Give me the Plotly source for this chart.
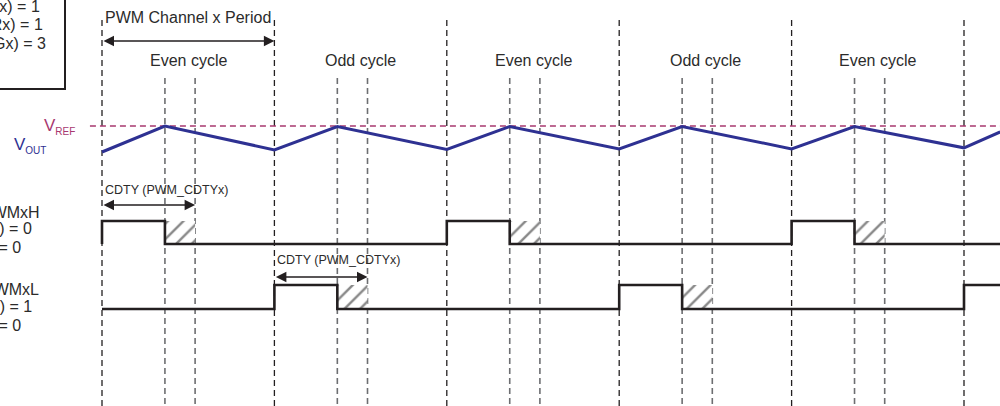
import plotly.graph_objects as go

# ---------------- data ----------------
# time axis in PWM periods (0 = start of first drawn period)
period_marks = [0, 1, 2, 3, 4, 5]
cycle_labels = ["Even cycle", "Odd cycle", "Even cycle", "Odd cycle", "Even cycle"]
cdty_frac = 0.365        # duty (compare) point inside a period
dead_frac = 0.54         # end of the hatched (dead-time) zone inside a period

# VOUT triangle (normalised: 0 = valley, 1 = touches VREF)
vout_t = [0, 0.365, 1, 1.365, 2, 2.365, 3, 3.365, 4, 4.365, 5, 5.21]
vout_v = [0.0, 1.0, 0.08, 0.98, 0.1, 0.98, 0.12, 0.98, 0.12, 0.98, 0.16, 0.77]
vref_v = 0.98

# PWMxH / PWMxL logical states (step after each time)
pwmh_t = [0, 0, 0.365, 2, 2.365, 4, 4.365, 5.21]
pwmh_s = [0, 1, 0, 1, 0, 1, 0, 0]
pwml_t = [0, 1, 1.365, 3, 3.365, 5, 5.21]
pwml_s = [0, 1, 0, 1, 0, 1, 1]
hatch_h = [0, 2, 4]      # periods where PWMxH has a hatched edge
hatch_l = [1, 3]         # periods where PWMxL has a hatched edge

box_lines = ["CALG(PWM_CMRx) = 1", "CPOL(PWM_CMRx) = 1", "DTRIG(PWM_ETRGx) = 3"]
h_lines = ["PWMxH", "POLH(PWM_CMRx) = 0", "DPOLI = 0"]
l_lines = ["PWMxL", "POLL(PWM_CMRx) = 1", "DPOLI = 0"]

# ---------------- layout constants ----------------
W, H = 1000, 406
X0_PX, PERIOD_PX = 102, 172.4
FONT = "Liberation Sans, Arial, sans-serif"
INK = "#231f20"
TXT = "#2b2b2b"
BLUE = "#2e3192"
MAG = "#a8386f"

VOUT_BASE, VOUT_AMP = 152, 26
H_LOW, H_AMP = 244, 23
L_LOW, L_AMP = 309, 24


def yv(v):
    return VOUT_BASE - v * VOUT_AMP


fig = go.Figure()

# hatched dead-time zones
for lst, low, amp in ((hatch_h, H_LOW, H_AMP), (hatch_l, L_LOW, L_AMP)):
    for p in lst:
        a, b = p + cdty_frac, p + dead_frac
        fig.add_trace(go.Scatter(
            x=[a, b, b, a, a], y=[low - amp, low - amp, low, low, low - amp],
            mode="lines", line=dict(width=0), fill="toself",
            fillcolor="rgba(0,0,0,0)",
            fillpattern=dict(shape="/", fgcolor="#111111", bgcolor="white", size=11, solidity=0.22),
            hoverinfo="skip", showlegend=False))

# VREF
fig.add_trace(go.Scatter(x=[-0.07, 5.25], y=[yv(vref_v) - 0.5] * 2, mode="lines",
                         line=dict(color=MAG, width=1.5, dash="6px,4px"),
                         hoverinfo="skip", showlegend=False))
# VOUT
fig.add_trace(go.Scatter(x=vout_t, y=[yv(v) for v in vout_v], mode="lines",
                         line=dict(color=BLUE, width=3), showlegend=False))
# PWMxH / PWMxL
fig.add_trace(go.Scatter(x=pwmh_t, y=[H_LOW - s * H_AMP for s in pwmh_s], mode="lines",
                         line=dict(color=INK, width=2.6, shape="hv"), showlegend=False))
fig.add_trace(go.Scatter(x=pwml_t, y=[L_LOW - s * L_AMP for s in pwml_s], mode="lines",
                         line=dict(color=INK, width=2.6, shape="hv"), showlegend=False))

shapes = []
for p in period_marks:
    shapes.append(dict(type="line", xref="x", yref="y", x0=p, x1=p, y0=20, y1=H,
                       line=dict(color=INK, width=1.3, dash="6px,4px"), layer="below"))
    for f in (cdty_frac, dead_frac):
        shapes.append(dict(type="line", xref="x", yref="y", x0=p + f, x1=p + f, y0=78, y1=H,
                           line=dict(color="#6d6e71", width=1.6, dash="6px,4px"), layer="below"))
# legend-like box at top left
shapes.append(dict(type="rect", xref="paper", yref="y", x0=-0.03, x1=0.065, y0=-5, y1=89,
                   line=dict(color=INK, width=2), fillcolor="rgba(0,0,0,0)"))

ann = []


def txt(x, y, s, size=16, color=TXT, xanchor="center", xref="x"):
    ann.append(dict(x=x, y=y, xref=xref, yref="y", text=s, showarrow=False,
                    xanchor=xanchor, yanchor="middle",
                    font=dict(family=FONT, size=size, color=color)))


def darrow(x0, x1, y):
    ann.append(dict(x=x1, y=y, ax=x0, ay=y, xref="x", yref="y", axref="x", ayref="y",
                    text="", showarrow=True, arrowhead=2, arrowside="end+start",
                    arrowsize=1.5, arrowwidth=1.4, arrowcolor=INK))


txt(0.005, 17, "PWM Channel x Period", xanchor="left")
darrow(0, 1, 41)
for i, lab in enumerate(cycle_labels):
    txt(i + 0.5, 60, lab)
txt(0.005, 190, "CDTY (PWM_CDTYx)", size=12.5, xanchor="left")
darrow(0, dead_frac, 205)
txt(1.005, 260, "CDTY (PWM_CDTYx)", size=12.5, xanchor="left")
darrow(1, 1 + dead_frac, 277)

for s, y, xe in zip(box_lines, [7, 25, 44], [42, 45, 48]):
    txt(xe / W, y, s, xanchor="right", xref="paper")
for s, y, xe in zip(h_lines, [212, 229, 247], [42, 34, 23]):
    txt(xe / W, y, s, xanchor="right", xref="paper")
for s, y, xe in zip(l_lines, [289, 307, 325], [41, 34, 23]):
    txt(xe / W, y, s, xanchor="right", xref="paper")

sub = "<sub><span style='font-size:10px'>%s</span></sub>"
txt(42 / W, 126, "V" + sub % "REF", size=17, color=MAG, xanchor="left", xref="paper")
txt(12 / W, 145, "V" + sub % "OUT", size=17, color=BLUE, xanchor="left", xref="paper")

fig.update_layout(
    width=W, height=H, margin=dict(l=0, r=0, t=0, b=0),
    paper_bgcolor="white", plot_bgcolor="white",
    xaxis=dict(range=[-X0_PX / PERIOD_PX, (W - X0_PX) / PERIOD_PX], visible=False, fixedrange=True),
    yaxis=dict(range=[H, 0], visible=False, fixedrange=True),
    shapes=shapes, annotations=ann, showlegend=False,
)

fig.write_html("out.html", config={"displayModeBar": False},
               post_script="document.body.style.margin='0';document.body.style.overflow='hidden';")
